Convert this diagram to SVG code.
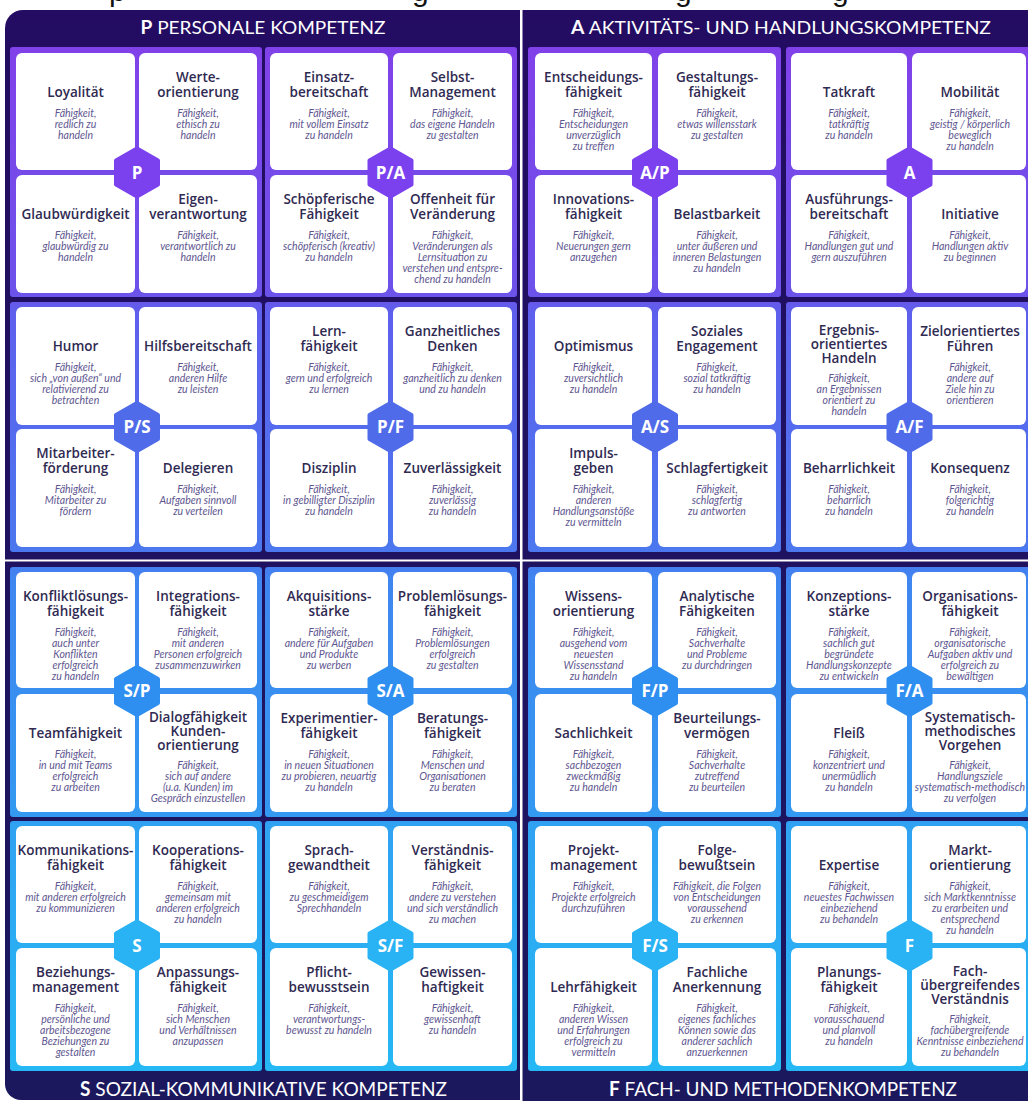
<svg xmlns="http://www.w3.org/2000/svg" xmlns:xlink="http://www.w3.org/1999/xlink" width="1028" height="1101" viewBox="0 0 1028 1101">
<defs>
  <linearGradient id="frameGrad" gradientUnits="userSpaceOnUse" x1="0" y1="10" x2="0" y2="1101">
    <stop offset="0" stop-color="#230c62"/>
    <stop offset="1" stop-color="#1b185e"/>
  </linearGradient>
  <linearGradient id="blockGrad" gradientUnits="userSpaceOnUse" x1="0" y1="47" x2="0" y2="1071">
    <stop offset="0" stop-color="#8141e9"/>
    <stop offset="0.24" stop-color="#6c52ea"/>
    <stop offset="0.26" stop-color="#5e60ed"/>
    <stop offset="0.5" stop-color="#4a78ef"/>
    <stop offset="0.52" stop-color="#3f86f0"/>
    <stop offset="0.75" stop-color="#3399f1"/>
    <stop offset="0.76" stop-color="#30a2f2"/>
    <stop offset="1" stop-color="#26b8f5"/>
  </linearGradient>
  <path id="hex" d="M0,-24 L21,-12 L21,12 L0,24 L-21,12 L-21,-12 Z"/>
  <style>
    .frame{fill:url(#frameGrad)}
    .block{fill:url(#blockGrad)}
    .card{fill:#ffffff}
    .t{font-family:"Open Sans","Liberation Sans",sans-serif;font-weight:600;font-size:13.5px;fill:#2f2a52;text-anchor:middle}
    .s{font-family:Lato,"Liberation Sans",sans-serif;font-style:italic;font-size:10.5px;fill:#5e5690;text-anchor:middle}
    .hx{stroke-width:4;stroke-linejoin:round}
    .h1{fill:#7b41ee;stroke:#7b41ee}
    .h2{fill:#4f6be9;stroke:#4f6be9}
    .h3{fill:#2f8ff0;stroke:#2f8ff0}
    .h4{fill:#2ab3f4;stroke:#2ab3f4}
    .hl{font-family:"Open Sans","Liberation Sans",sans-serif;font-weight:700;font-size:17px;fill:#ffffff;text-anchor:middle}
    .hd{font-family:Lato,"Liberation Sans",sans-serif;font-size:18px;fill:#ffffff;text-anchor:middle}
    .ft{font-family:Lato,"Liberation Sans",sans-serif;font-size:20px;fill:#ffffff;text-anchor:middle}
    .b{font-weight:700}
    .frag{font-family:"Liberation Sans",Arial,sans-serif;font-size:30px;fill:#111111}
  </style>
</defs>

<rect width="1028" height="1101" fill="#ffffff"/>

<!-- clipped title line above the chart -->
<g id="title-fragments">
  <text class="frag" x="109" y="1">p</text>
  <text class="frag" x="412" y="1">g</text>
  <text class="frag" x="675" y="1">g</text>
  <text class="frag" x="832" y="1">g</text>
</g>

<!-- quadrant panels -->
<g id="panels">
  <path class="frame" d="M5,28 A18,18 0 0 1 23,10 H520 V559.5 H5 Z"/>
  <rect class="frame" x="522.5" y="10" width="530" height="549.5"/>
  <path class="frame" d="M5,561.5 H520 V1100 H21 A16,16 0 0 1 5,1084 Z"/>
  <rect class="frame" x="522.5" y="561.5" width="530" height="540"/>
</g>

<g id="headers">
  <text class="hd" x="263" y="33.5" textLength="245" lengthAdjust="spacingAndGlyphs"><tspan class="b">P</tspan> PERSONALE KOMPETENZ</text>
  <text class="hd" x="781" y="33.5" textLength="420" lengthAdjust="spacingAndGlyphs"><tspan class="b">A</tspan> AKTIVITÄTS- UND HANDLUNGSKOMPETENZ</text>
  <text class="ft" x="263.5" y="1096" textLength="367" lengthAdjust="spacingAndGlyphs"><tspan class="b">S</tspan> SOZIAL-KOMMUNIKATIVE KOMPETENZ</text>
  <text class="ft" x="783" y="1096" textLength="348" lengthAdjust="spacingAndGlyphs"><tspan class="b">F</tspan> FACH- UND METHODENKOMPETENZ</text>
</g>

<!-- sub-blocks: background shows through as the cross between the four cards -->
<g id="blocks">
  <rect class="block" x="10" y="47" width="252" height="250" rx="3"/>
  <rect class="block" x="265" y="47" width="252" height="250" rx="3"/>
  <rect class="block" x="528" y="47" width="253" height="250" rx="3"/>
  <rect class="block" x="786" y="47" width="260" height="250" rx="3"/>
  <rect class="block" x="10" y="302" width="252" height="250" rx="3"/>
  <rect class="block" x="265" y="302" width="252" height="250" rx="3"/>
  <rect class="block" x="528" y="302" width="253" height="250" rx="3"/>
  <rect class="block" x="786" y="302" width="260" height="250" rx="3"/>
  <rect class="block" x="10" y="567" width="252" height="250" rx="3"/>
  <rect class="block" x="265" y="567" width="252" height="250" rx="3"/>
  <rect class="block" x="528" y="567" width="253" height="250" rx="3"/>
  <rect class="block" x="786" y="567" width="260" height="250" rx="3"/>
  <rect class="block" x="10" y="821" width="252" height="250" rx="3"/>
  <rect class="block" x="265" y="821" width="252" height="250" rx="3"/>
  <rect class="block" x="528" y="821" width="253" height="250" rx="3"/>
  <rect class="block" x="786" y="821" width="260" height="250" rx="3"/>
</g>

<!-- ===== P ===== -->
<g id="block-p">
  <g id="loyalitaet"><rect class="card" x="16" y="53" width="119" height="117" rx="6"/><text class="t" x="75.5" y="96.5">Loyalität</text><text class="s" x="75.5" y="116.5">Fähigkeit,<tspan x="75.5" dy="11">redlich zu</tspan><tspan x="75.5" dy="11">handeln</tspan></text></g>
  <g id="werteorientierung"><rect class="card" x="139" y="53" width="118" height="117" rx="6"/><text class="t" x="198" y="81.5">Werte-<tspan x="198" dy="15">orientierung</tspan></text><text class="s" x="198" y="116.5">Fähigkeit,<tspan x="198" dy="11">ethisch zu</tspan><tspan x="198" dy="11">handeln</tspan></text></g>
  <g id="glaubwuerdigkeit"><rect class="card" x="16" y="175" width="119" height="118" rx="6"/><text class="t" x="75.5" y="218.5">Glaubwürdigkeit</text><text class="s" x="75.5" y="238.5">Fähigkeit,<tspan x="75.5" dy="11">glaubwürdig zu</tspan><tspan x="75.5" dy="11">handeln</tspan></text></g>
  <g id="eigenverantwortung"><rect class="card" x="139" y="175" width="118" height="118" rx="6"/><text class="t" x="198" y="203.5">Eigen-<tspan x="198" dy="15">verantwortung</tspan></text><text class="s" x="198" y="238.5">Fähigkeit,<tspan x="198" dy="11">verantwortlich zu</tspan><tspan x="198" dy="11">handeln</tspan></text></g>
  <g id="hex-p"><use href="#hex" x="137" y="172.5" class="hx h1"/><text class="hl" x="137" y="178.5">P</text></g>
</g>

<!-- ===== P/A ===== -->
<g id="block-pa">
  <g id="einsatzbereitschaft"><rect class="card" x="270" y="53" width="118" height="117" rx="6"/><text class="t" x="329" y="81.5">Einsatz-<tspan x="329" dy="15">bereitschaft</tspan></text><text class="s" x="329" y="116.5">Fähigkeit,<tspan x="329" dy="11">mit vollem Einsatz</tspan><tspan x="329" dy="11">zu handeln</tspan></text></g>
  <g id="selbstmanagement"><rect class="card" x="393" y="53" width="119" height="117" rx="6"/><text class="t" x="452.5" y="81.5">Selbst-<tspan x="452.5" dy="15">Management</tspan></text><text class="s" x="452.5" y="116.5">Fähigkeit,<tspan x="452.5" dy="11">das eigene Handeln</tspan><tspan x="452.5" dy="11">zu gestalten</tspan></text></g>
  <g id="schoepferische-faehigkeit"><rect class="card" x="270" y="175" width="118" height="118" rx="6"/><text class="t" x="329" y="203.5">Schöpferische<tspan x="329" dy="15">Fähigkeit</tspan></text><text class="s" x="329" y="238.5">Fähigkeit,<tspan x="329" dy="11">schöpferisch (kreativ)</tspan><tspan x="329" dy="11">zu handeln</tspan></text></g>
  <g id="offenheit"><rect class="card" x="393" y="175" width="119" height="118" rx="6"/><text class="t" x="452.5" y="203.5">Offenheit für<tspan x="452.5" dy="15">Veränderung</tspan></text><text class="s" x="452.5" y="238.5">Fähigkeit,<tspan x="452.5" dy="11">Veränderungen als</tspan><tspan x="452.5" dy="11">Lernsituation zu</tspan><tspan x="452.5" dy="11">verstehen und entspre-</tspan><tspan x="452.5" dy="11">chend zu handeln</tspan></text></g>
  <g id="hex-pa"><use href="#hex" x="390.5" y="172.5" class="hx h1"/><text class="hl" x="390.5" y="178.5">P/A</text></g>
</g>

<!-- ===== A/P ===== -->
<g id="block-ap">
  <g id="entscheidungsfaehigkeit"><rect class="card" x="535" y="53" width="117" height="117" rx="6"/><text class="t" x="593.5" y="81.5">Entscheidungs-<tspan x="593.5" dy="15">fähigkeit</tspan></text><text class="s" x="593.5" y="116.5">Fähigkeit,<tspan x="593.5" dy="11">Entscheidungen</tspan><tspan x="593.5" dy="11">unverzüglich</tspan><tspan x="593.5" dy="11">zu treffen</tspan></text></g>
  <g id="gestaltungsfaehigkeit"><rect class="card" x="658" y="53" width="118" height="117" rx="6"/><text class="t" x="717" y="81.5">Gestaltungs-<tspan x="717" dy="15">fähigkeit</tspan></text><text class="s" x="717" y="116.5">Fähigkeit,<tspan x="717" dy="11">etwas willensstark</tspan><tspan x="717" dy="11">zu gestalten</tspan></text></g>
  <g id="innovationsfaehigkeit"><rect class="card" x="535" y="175" width="117" height="118" rx="6"/><text class="t" x="593.5" y="203.5">Innovations-<tspan x="593.5" dy="15">fähigkeit</tspan></text><text class="s" x="593.5" y="238.5">Fähigkeit,<tspan x="593.5" dy="11">Neuerungen gern</tspan><tspan x="593.5" dy="11">anzugehen</tspan></text></g>
  <g id="belastbarkeit"><rect class="card" x="658" y="175" width="118" height="118" rx="6"/><text class="t" x="717" y="218.5">Belastbarkeit</text><text class="s" x="717" y="238.5">Fähigkeit,<tspan x="717" dy="11">unter äußeren und</tspan><tspan x="717" dy="11">inneren Belastungen</tspan><tspan x="717" dy="11">zu handeln</tspan></text></g>
  <g id="hex-ap"><use href="#hex" x="655" y="172.5" class="hx h1"/><text class="hl" x="655" y="178.5">A/P</text></g>
</g>

<!-- ===== A ===== -->
<g id="block-a">
  <g id="tatkraft"><rect class="card" x="791" y="53" width="116" height="117" rx="6"/><text class="t" x="849" y="96.5">Tatkraft</text><text class="s" x="849" y="116.5">Fähigkeit,<tspan x="849" dy="11">tatkräftig</tspan><tspan x="849" dy="11">zu handeln</tspan></text></g>
  <g id="mobilitaet"><rect class="card" x="912" y="53" width="114" height="117" rx="6"/><text class="t" x="970" y="96.5">Mobilität</text><text class="s" x="970" y="116.5">Fähigkeit,<tspan x="970" dy="11">geistig / körperlich</tspan><tspan x="970" dy="11">beweglich</tspan><tspan x="970" dy="11">zu handeln</tspan></text></g>
  <g id="ausfuehrungsbereitschaft"><rect class="card" x="791" y="175" width="116" height="118" rx="6"/><text class="t" x="849" y="203.5">Ausführungs-<tspan x="849" dy="15">bereitschaft</tspan></text><text class="s" x="849" y="238.5">Fähigkeit,<tspan x="849" dy="11">Handlungen gut und</tspan><tspan x="849" dy="11">gern auszuführen</tspan></text></g>
  <g id="initiative"><rect class="card" x="912" y="175" width="114" height="118" rx="6"/><text class="t" x="970" y="218.5">Initiative</text><text class="s" x="970" y="238.5">Fähigkeit,<tspan x="970" dy="11">Handlungen aktiv</tspan><tspan x="970" dy="11">zu beginnen</tspan></text></g>
  <g id="hex-a"><use href="#hex" x="909.5" y="172.5" class="hx h1"/><text class="hl" x="909.5" y="178.5">A</text></g>
</g>

<!-- ===== P/S ===== -->
<g id="block-ps">
  <g id="humor"><rect class="card" x="16" y="307" width="119" height="118" rx="6"/><text class="t" x="75.5" y="350.5">Humor</text><text class="s" x="75.5" y="370.5">Fähigkeit,<tspan x="75.5" dy="11">sich „von außen“ und</tspan><tspan x="75.5" dy="11">relativierend zu</tspan><tspan x="75.5" dy="11">betrachten</tspan></text></g>
  <g id="hilfsbereitschaft"><rect class="card" x="139" y="307" width="118" height="118" rx="6"/><text class="t" x="198" y="350.5">Hilfsbereitschaft</text><text class="s" x="198" y="370.5">Fähigkeit,<tspan x="198" dy="11">anderen Hilfe</tspan><tspan x="198" dy="11">zu leisten</tspan></text></g>
  <g id="mitarbeiterfoerderung"><rect class="card" x="16" y="429" width="119" height="118" rx="6"/><text class="t" x="75.5" y="457.5">Mitarbeiter-<tspan x="75.5" dy="15">förderung</tspan></text><text class="s" x="75.5" y="492.5">Fähigkeit,<tspan x="75.5" dy="11">Mitarbeiter zu</tspan><tspan x="75.5" dy="11">fördern</tspan></text></g>
  <g id="delegieren"><rect class="card" x="139" y="429" width="118" height="118" rx="6"/><text class="t" x="198" y="472.5">Delegieren</text><text class="s" x="198" y="492.5">Fähigkeit,<tspan x="198" dy="11">Aufgaben sinnvoll</tspan><tspan x="198" dy="11">zu verteilen</tspan></text></g>
  <g id="hex-ps"><use href="#hex" x="137" y="427" class="hx h2"/><text class="hl" x="137" y="433">P/S</text></g>
</g>

<!-- ===== P/F ===== -->
<g id="block-pf">
  <g id="lernfaehigkeit"><rect class="card" x="270" y="307" width="118" height="118" rx="6"/><text class="t" x="329" y="335.5">Lern-<tspan x="329" dy="15">fähigkeit</tspan></text><text class="s" x="329" y="370.5">Fähigkeit,<tspan x="329" dy="11">gern und erfolgreich</tspan><tspan x="329" dy="11">zu lernen</tspan></text></g>
  <g id="ganzheitliches-denken"><rect class="card" x="393" y="307" width="119" height="118" rx="6"/><text class="t" x="452.5" y="335.5">Ganzheitliches<tspan x="452.5" dy="15">Denken</tspan></text><text class="s" x="452.5" y="370.5">Fähigkeit,<tspan x="452.5" dy="11">ganzheitlich zu denken</tspan><tspan x="452.5" dy="11">und zu handeln</tspan></text></g>
  <g id="disziplin"><rect class="card" x="270" y="429" width="118" height="118" rx="6"/><text class="t" x="329" y="472.5">Disziplin</text><text class="s" x="329" y="492.5">Fähigkeit,<tspan x="329" dy="11">in gebilligter Disziplin</tspan><tspan x="329" dy="11">zu handeln</tspan></text></g>
  <g id="zuverlaessigkeit"><rect class="card" x="393" y="429" width="119" height="118" rx="6"/><text class="t" x="452.5" y="472.5">Zuverlässigkeit</text><text class="s" x="452.5" y="492.5">Fähigkeit,<tspan x="452.5" dy="11">zuverlässig</tspan><tspan x="452.5" dy="11">zu handeln</tspan></text></g>
  <g id="hex-pf"><use href="#hex" x="390.5" y="427" class="hx h2"/><text class="hl" x="390.5" y="433">P/F</text></g>
</g>

<!-- ===== A/S ===== -->
<g id="block-as">
  <g id="optimismus"><rect class="card" x="535" y="307" width="117" height="118" rx="6"/><text class="t" x="593.5" y="350.5">Optimismus</text><text class="s" x="593.5" y="370.5">Fähigkeit,<tspan x="593.5" dy="11">zuversichtlich</tspan><tspan x="593.5" dy="11">zu handeln</tspan></text></g>
  <g id="soziales-engagement"><rect class="card" x="658" y="307" width="118" height="118" rx="6"/><text class="t" x="717" y="335.5">Soziales<tspan x="717" dy="15">Engagement</tspan></text><text class="s" x="717" y="370.5">Fähigkeit,<tspan x="717" dy="11">sozial tatkräftig</tspan><tspan x="717" dy="11">zu handeln</tspan></text></g>
  <g id="impulsgeben"><rect class="card" x="535" y="429" width="117" height="118" rx="6"/><text class="t" x="593.5" y="457.5">Impuls-<tspan x="593.5" dy="15">geben</tspan></text><text class="s" x="593.5" y="492.5">Fähigkeit,<tspan x="593.5" dy="11">anderen</tspan><tspan x="593.5" dy="11">Handlungsanstöße</tspan><tspan x="593.5" dy="11">zu vermitteln</tspan></text></g>
  <g id="schlagfertigkeit"><rect class="card" x="658" y="429" width="118" height="118" rx="6"/><text class="t" x="717" y="472.5">Schlagfertigkeit</text><text class="s" x="717" y="492.5">Fähigkeit,<tspan x="717" dy="11">schlagfertig</tspan><tspan x="717" dy="11">zu antworten</tspan></text></g>
  <g id="hex-as"><use href="#hex" x="655" y="427" class="hx h2"/><text class="hl" x="655" y="433">A/S</text></g>
</g>

<!-- ===== A/F ===== -->
<g id="block-af">
  <g id="ergebnisorientiertes-handeln"><rect class="card" x="791" y="307" width="116" height="118" rx="6"/><text class="t" x="849" y="334.5">Ergebnis-<tspan x="849" dy="14">orientiertes</tspan><tspan x="849" dy="14">Handeln</tspan></text><text class="s" x="849" y="382">Fähigkeit,<tspan x="849" dy="11">an Ergebnissen</tspan><tspan x="849" dy="11">orientiert zu</tspan><tspan x="849" dy="11">handeln</tspan></text></g>
  <g id="zielorientiertes-fuehren"><rect class="card" x="912" y="307" width="114" height="118" rx="6"/><text class="t" x="970" y="335.5">Zielorientiertes<tspan x="970" dy="15">Führen</tspan></text><text class="s" x="970" y="370.5">Fähigkeit,<tspan x="970" dy="11">andere auf</tspan><tspan x="970" dy="11">Ziele hin zu</tspan><tspan x="970" dy="11">orientieren</tspan></text></g>
  <g id="beharrlichkeit"><rect class="card" x="791" y="429" width="116" height="118" rx="6"/><text class="t" x="849" y="472.5">Beharrlichkeit</text><text class="s" x="849" y="492.5">Fähigkeit,<tspan x="849" dy="11">beharrlich</tspan><tspan x="849" dy="11">zu handeln</tspan></text></g>
  <g id="konsequenz"><rect class="card" x="912" y="429" width="114" height="118" rx="6"/><text class="t" x="970" y="472.5">Konsequenz</text><text class="s" x="970" y="492.5">Fähigkeit,<tspan x="970" dy="11">folgerichtig</tspan><tspan x="970" dy="11">zu handeln</tspan></text></g>
  <g id="hex-af"><use href="#hex" x="909.5" y="427" class="hx h2"/><text class="hl" x="909.5" y="433">A/F</text></g>
</g>

<!-- ===== S/P ===== -->
<g id="block-sp">
  <g id="konfliktloesungsfaehigkeit"><rect class="card" x="16" y="572" width="119" height="116" rx="6"/><text class="t" x="75.5" y="600.5">Konfliktlösungs-<tspan x="75.5" dy="15">fähigkeit</tspan></text><text class="s" x="75.5" y="635.5">Fähigkeit,<tspan x="75.5" dy="11">auch unter</tspan><tspan x="75.5" dy="11">Konflikten</tspan><tspan x="75.5" dy="11">erfolgreich</tspan><tspan x="75.5" dy="11">zu handeln</tspan></text></g>
  <g id="integrationsfaehigkeit"><rect class="card" x="139" y="572" width="118" height="116" rx="6"/><text class="t" x="198" y="600.5">Integrations-<tspan x="198" dy="15">fähigkeit</tspan></text><text class="s" x="198" y="635.5">Fähigkeit,<tspan x="198" dy="11">mit anderen</tspan><tspan x="198" dy="11">Personen erfolgreich</tspan><tspan x="198" dy="11">zusammenzuwirken</tspan></text></g>
  <g id="teamfaehigkeit"><rect class="card" x="16" y="694" width="119" height="118" rx="6"/><text class="t" x="75.5" y="737.5">Teamfähigkeit</text><text class="s" x="75.5" y="757.5">Fähigkeit,<tspan x="75.5" dy="11">in und mit Teams</tspan><tspan x="75.5" dy="11">erfolgreich</tspan><tspan x="75.5" dy="11">zu arbeiten</tspan></text></g>
  <g id="dialogfaehigkeit"><rect class="card" x="139" y="694" width="118" height="118" rx="6"/><text class="t" x="198" y="721.5">Dialogfähigkeit<tspan x="198" dy="14">Kunden-</tspan><tspan x="198" dy="14">orientierung</tspan></text><text class="s" x="198" y="769">Fähigkeit,<tspan x="198" dy="11">sich auf andere</tspan><tspan x="198" dy="11">(u.a. Kunden) im</tspan><tspan x="198" dy="11">Gespräch einzustellen</tspan></text></g>
  <g id="hex-sp"><use href="#hex" x="137" y="691" class="hx h3"/><text class="hl" x="137" y="697">S/P</text></g>
</g>

<!-- ===== S/A ===== -->
<g id="block-sa">
  <g id="akquisitionsstaerke"><rect class="card" x="270" y="572" width="118" height="116" rx="6"/><text class="t" x="329" y="600.5">Akquisitions-<tspan x="329" dy="15">stärke</tspan></text><text class="s" x="329" y="635.5">Fähigkeit,<tspan x="329" dy="11">andere für Aufgaben</tspan><tspan x="329" dy="11">und Produkte</tspan><tspan x="329" dy="11">zu werben</tspan></text></g>
  <g id="problemloesungsfaehigkeit"><rect class="card" x="393" y="572" width="119" height="116" rx="6"/><text class="t" x="452.5" y="600.5">Problemlösungs-<tspan x="452.5" dy="15">fähigkeit</tspan></text><text class="s" x="452.5" y="635.5">Fähigkeit,<tspan x="452.5" dy="11">Problemlösungen</tspan><tspan x="452.5" dy="11">erfolgreich</tspan><tspan x="452.5" dy="11">zu gestalten</tspan></text></g>
  <g id="experimentierfaehigkeit"><rect class="card" x="270" y="694" width="118" height="118" rx="6"/><text class="t" x="329" y="722.5">Experimentier-<tspan x="329" dy="15">fähigkeit</tspan></text><text class="s" x="329" y="757.5">Fähigkeit,<tspan x="329" dy="11">in neuen Situationen</tspan><tspan x="329" dy="11">zu probieren, neuartig</tspan><tspan x="329" dy="11">zu handeln</tspan></text></g>
  <g id="beratungsfaehigkeit"><rect class="card" x="393" y="694" width="119" height="118" rx="6"/><text class="t" x="452.5" y="722.5">Beratungs-<tspan x="452.5" dy="15">fähigkeit</tspan></text><text class="s" x="452.5" y="757.5">Fähigkeit,<tspan x="452.5" dy="11">Menschen und</tspan><tspan x="452.5" dy="11">Organisationen</tspan><tspan x="452.5" dy="11">zu beraten</tspan></text></g>
  <g id="hex-sa"><use href="#hex" x="390.5" y="691" class="hx h3"/><text class="hl" x="390.5" y="697">S/A</text></g>
</g>

<!-- ===== F/P ===== -->
<g id="block-fp">
  <g id="wissensorientierung"><rect class="card" x="535" y="572" width="117" height="116" rx="6"/><text class="t" x="593.5" y="600.5">Wissens-<tspan x="593.5" dy="15">orientierung</tspan></text><text class="s" x="593.5" y="635.5">Fähigkeit,<tspan x="593.5" dy="11">ausgehend vom</tspan><tspan x="593.5" dy="11">neuesten</tspan><tspan x="593.5" dy="11">Wissensstand</tspan><tspan x="593.5" dy="11">zu handeln</tspan></text></g>
  <g id="analytische-faehigkeiten"><rect class="card" x="658" y="572" width="118" height="116" rx="6"/><text class="t" x="717" y="600.5">Analytische<tspan x="717" dy="15">Fähigkeiten</tspan></text><text class="s" x="717" y="635.5">Fähigkeit,<tspan x="717" dy="11">Sachverhalte</tspan><tspan x="717" dy="11">und Probleme</tspan><tspan x="717" dy="11">zu durchdringen</tspan></text></g>
  <g id="sachlichkeit"><rect class="card" x="535" y="694" width="117" height="118" rx="6"/><text class="t" x="593.5" y="737.5">Sachlichkeit</text><text class="s" x="593.5" y="757.5">Fähigkeit,<tspan x="593.5" dy="11">sachbezogen</tspan><tspan x="593.5" dy="11">zweckmäßig</tspan><tspan x="593.5" dy="11">zu handeln</tspan></text></g>
  <g id="beurteilungsvermoegen"><rect class="card" x="658" y="694" width="118" height="118" rx="6"/><text class="t" x="717" y="722.5">Beurteilungs-<tspan x="717" dy="15">vermögen</tspan></text><text class="s" x="717" y="757.5">Fähigkeit,<tspan x="717" dy="11">Sachverhalte</tspan><tspan x="717" dy="11">zutreffend</tspan><tspan x="717" dy="11">zu beurteilen</tspan></text></g>
  <g id="hex-fp"><use href="#hex" x="655" y="691" class="hx h3"/><text class="hl" x="655" y="697">F/P</text></g>
</g>

<!-- ===== F/A ===== -->
<g id="block-fa">
  <g id="konzeptionsstaerke"><rect class="card" x="791" y="572" width="116" height="116" rx="6"/><text class="t" x="849" y="600.5">Konzeptions-<tspan x="849" dy="15">stärke</tspan></text><text class="s" x="849" y="635.5">Fähigkeit,<tspan x="849" dy="11">sachlich gut</tspan><tspan x="849" dy="11">begründete</tspan><tspan x="849" dy="11">Handlungskonzepte</tspan><tspan x="849" dy="11">zu entwickeln</tspan></text></g>
  <g id="organisationsfaehigkeit"><rect class="card" x="912" y="572" width="114" height="116" rx="6"/><text class="t" x="970" y="600.5">Organisations-<tspan x="970" dy="15">fähigkeit</tspan></text><text class="s" x="970" y="635.5">Fähigkeit,<tspan x="970" dy="11">organisatorische</tspan><tspan x="970" dy="11">Aufgaben aktiv und</tspan><tspan x="970" dy="11">erfolgreich zu</tspan><tspan x="970" dy="11">bewältigen</tspan></text></g>
  <g id="fleiss"><rect class="card" x="791" y="694" width="116" height="118" rx="6"/><text class="t" x="849" y="737.5">Fleiß</text><text class="s" x="849" y="757.5">Fähigkeit,<tspan x="849" dy="11">konzentriert und</tspan><tspan x="849" dy="11">unermüdlich</tspan><tspan x="849" dy="11">zu handeln</tspan></text></g>
  <g id="systematisch-methodisches-vorgehen"><rect class="card" x="912" y="694" width="114" height="118" rx="6"/><text class="t" x="970" y="721.5">Systematisch-<tspan x="970" dy="14">methodisches</tspan><tspan x="970" dy="14">Vorgehen</tspan></text><text class="s" x="970" y="769">Fähigkeit,<tspan x="970" dy="11">Handlungsziele</tspan><tspan x="970" dy="11">systematisch-methodisch</tspan><tspan x="970" dy="11">zu verfolgen</tspan></text></g>
  <g id="hex-fa"><use href="#hex" x="909.5" y="691" class="hx h3"/><text class="hl" x="909.5" y="697">F/A</text></g>
</g>

<!-- ===== S ===== -->
<g id="block-s">
  <g id="kommunikationsfaehigkeit"><rect class="card" x="16" y="826" width="119" height="117" rx="6"/><text class="t" x="75.5" y="854.5">Kommunikations-<tspan x="75.5" dy="15">fähigkeit</tspan></text><text class="s" x="75.5" y="889.5">Fähigkeit,<tspan x="75.5" dy="11">mit anderen erfolgreich</tspan><tspan x="75.5" dy="11">zu kommunizieren</tspan></text></g>
  <g id="kooperationsfaehigkeit"><rect class="card" x="139" y="826" width="118" height="117" rx="6"/><text class="t" x="198" y="854.5">Kooperations-<tspan x="198" dy="15">fähigkeit</tspan></text><text class="s" x="198" y="889.5">Fähigkeit,<tspan x="198" dy="11">gemeinsam mit</tspan><tspan x="198" dy="11">anderen erfolgreich</tspan><tspan x="198" dy="11">zu handeln</tspan></text></g>
  <g id="beziehungsmanagement"><rect class="card" x="16" y="948" width="119" height="118" rx="6"/><text class="t" x="75.5" y="976.5">Beziehungs-<tspan x="75.5" dy="15">management</tspan></text><text class="s" x="75.5" y="1011.5">Fähigkeit,<tspan x="75.5" dy="11">persönliche und</tspan><tspan x="75.5" dy="11">arbeitsbezogene</tspan><tspan x="75.5" dy="11">Beziehungen zu</tspan><tspan x="75.5" dy="11">gestalten</tspan></text></g>
  <g id="anpassungsfaehigkeit"><rect class="card" x="139" y="948" width="118" height="118" rx="6"/><text class="t" x="198" y="976.5">Anpassungs-<tspan x="198" dy="15">fähigkeit</tspan></text><text class="s" x="198" y="1011.5">Fähigkeit,<tspan x="198" dy="11">sich Menschen</tspan><tspan x="198" dy="11">und Verhältnissen</tspan><tspan x="198" dy="11">anzupassen</tspan></text></g>
  <g id="hex-s"><use href="#hex" x="137" y="945.5" class="hx h4"/><text class="hl" x="137" y="951.5">S</text></g>
</g>

<!-- ===== S/F ===== -->
<g id="block-sf">
  <g id="sprachgewandtheit"><rect class="card" x="270" y="826" width="118" height="117" rx="6"/><text class="t" x="329" y="854.5">Sprach-<tspan x="329" dy="15">gewandtheit</tspan></text><text class="s" x="329" y="889.5">Fähigkeit,<tspan x="329" dy="11">zu geschmeidigem</tspan><tspan x="329" dy="11">Sprechhandeln</tspan></text></g>
  <g id="verstaendnisfaehigkeit"><rect class="card" x="393" y="826" width="119" height="117" rx="6"/><text class="t" x="452.5" y="854.5">Verständnis-<tspan x="452.5" dy="15">fähigkeit</tspan></text><text class="s" x="452.5" y="889.5">Fähigkeit,<tspan x="452.5" dy="11">andere zu verstehen</tspan><tspan x="452.5" dy="11">und sich verständlich</tspan><tspan x="452.5" dy="11">zu machen</tspan></text></g>
  <g id="pflichtbewusstsein"><rect class="card" x="270" y="948" width="118" height="118" rx="6"/><text class="t" x="329" y="976.5">Pflicht-<tspan x="329" dy="15">bewusstsein</tspan></text><text class="s" x="329" y="1011.5">Fähigkeit,<tspan x="329" dy="11">verantwortungs-</tspan><tspan x="329" dy="11">bewusst zu handeln</tspan></text></g>
  <g id="gewissenhaftigkeit"><rect class="card" x="393" y="948" width="119" height="118" rx="6"/><text class="t" x="452.5" y="976.5">Gewissen-<tspan x="452.5" dy="15">haftigkeit</tspan></text><text class="s" x="452.5" y="1011.5">Fähigkeit,<tspan x="452.5" dy="11">gewissenhaft</tspan><tspan x="452.5" dy="11">zu handeln</tspan></text></g>
  <g id="hex-sf"><use href="#hex" x="390.5" y="945.5" class="hx h4"/><text class="hl" x="390.5" y="951.5">S/F</text></g>
</g>

<!-- ===== F/S ===== -->
<g id="block-fs">
  <g id="projektmanagement"><rect class="card" x="535" y="826" width="117" height="117" rx="6"/><text class="t" x="593.5" y="854.5">Projekt-<tspan x="593.5" dy="15">management</tspan></text><text class="s" x="593.5" y="889.5">Fähigkeit,<tspan x="593.5" dy="11">Projekte erfolgreich</tspan><tspan x="593.5" dy="11">durchzuführen</tspan></text></g>
  <g id="folgebewusstsein"><rect class="card" x="658" y="826" width="118" height="117" rx="6"/><text class="t" x="717" y="854.5">Folge-<tspan x="717" dy="15">bewußtsein</tspan></text><text class="s" x="717" y="889.5">Fähigkeit, die Folgen<tspan x="717" dy="11">von Entscheidungen</tspan><tspan x="717" dy="11">voraussehend</tspan><tspan x="717" dy="11">zu erkennen</tspan></text></g>
  <g id="lehrfaehigkeit"><rect class="card" x="535" y="948" width="117" height="118" rx="6"/><text class="t" x="593.5" y="991.5">Lehrfähigkeit</text><text class="s" x="593.5" y="1011.5">Fähigkeit,<tspan x="593.5" dy="11">anderen Wissen</tspan><tspan x="593.5" dy="11">und Erfahrungen</tspan><tspan x="593.5" dy="11">erfolgreich zu</tspan><tspan x="593.5" dy="11">vermitteln</tspan></text></g>
  <g id="fachliche-anerkennung"><rect class="card" x="658" y="948" width="118" height="118" rx="6"/><text class="t" x="717" y="976.5">Fachliche<tspan x="717" dy="15">Anerkennung</tspan></text><text class="s" x="717" y="1011.5">Fähigkeit,<tspan x="717" dy="11">eigenes fachliches</tspan><tspan x="717" dy="11">Können sowie das</tspan><tspan x="717" dy="11">anderer sachlich</tspan><tspan x="717" dy="11">anzuerkennen</tspan></text></g>
  <g id="hex-fs"><use href="#hex" x="655" y="945.5" class="hx h4"/><text class="hl" x="655" y="951.5">F/S</text></g>
</g>

<!-- ===== F ===== -->
<g id="block-f">
  <g id="expertise"><rect class="card" x="791" y="826" width="116" height="117" rx="6"/><text class="t" x="849" y="869.5">Expertise</text><text class="s" x="849" y="889.5">Fähigkeit,<tspan x="849" dy="11">neuestes Fachwissen</tspan><tspan x="849" dy="11">einbeziehend</tspan><tspan x="849" dy="11">zu behandeln</tspan></text></g>
  <g id="marktorientierung"><rect class="card" x="912" y="826" width="114" height="117" rx="6"/><text class="t" x="970" y="854.5">Markt-<tspan x="970" dy="15">orientierung</tspan></text><text class="s" x="970" y="889.5">Fähigkeit,<tspan x="970" dy="11">sich Marktkenntnisse</tspan><tspan x="970" dy="11">zu erarbeiten und</tspan><tspan x="970" dy="11">entsprechend</tspan><tspan x="970" dy="11">zu handeln</tspan></text></g>
  <g id="planungsfaehigkeit"><rect class="card" x="791" y="948" width="116" height="118" rx="6"/><text class="t" x="849" y="976.5">Planungs-<tspan x="849" dy="15">fähigkeit</tspan></text><text class="s" x="849" y="1011.5">Fähigkeit,<tspan x="849" dy="11">vorausschauend</tspan><tspan x="849" dy="11">und planvoll</tspan><tspan x="849" dy="11">zu handeln</tspan></text></g>
  <g id="fachuebergreifendes-verstaendnis"><rect class="card" x="912" y="948" width="114" height="118" rx="6"/><text class="t" x="970" y="975.5">Fach-<tspan x="970" dy="14">übergreifendes</tspan><tspan x="970" dy="14">Verständnis</tspan></text><text class="s" x="970" y="1023">Fähigkeit,<tspan x="970" dy="11">fachübergreifende</tspan><tspan x="970" dy="11">Kenntnisse einbeziehend</tspan><tspan x="970" dy="11">zu behandeln</tspan></text></g>
  <g id="hex-f"><use href="#hex" x="909.5" y="945.5" class="hx h4"/><text class="hl" x="909.5" y="951.5">F</text></g>
</g>
</svg>
